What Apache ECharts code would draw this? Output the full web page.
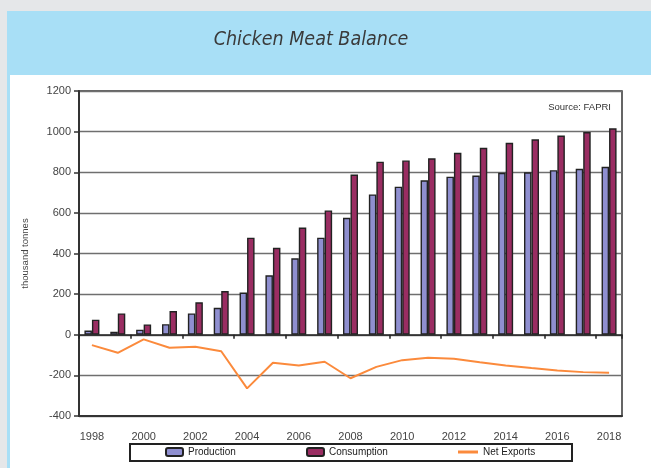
<!DOCTYPE html>
<html>
<head>
<meta charset="utf-8">
<script src="https://cdn.jsdelivr.net/npm/echarts@6/dist/echarts.min.js"></script>
<style>
  html, body { margin: 0; padding: 0; }
  body { width: 651px; height: 468px; background: #e5e7e9; position: relative; overflow: hidden; }
  #panel { position: absolute; left: 7px; top: 11px; right: 0; bottom: 0; background: #a8dff6; }
  #inner { position: absolute; left: 10px; top: 75px; right: 0; bottom: 0; background: #ffffff; }
  #chart { position: absolute; left: 0; top: 0; width: 651px; height: 468px; }
</style>
</head>
<body>
<div id="panel"></div>
<div id="inner"></div>
<div id="chart"></div>
<script>
const years = ['1998','1999','2000','2001','2002','2003','2004','2005','2006','2007','2008','2009','2010','2011','2012','2013','2014','2015','2016','2017','2018'];
const production = [21, 15, 25, 52, 105, 133, 208, 293, 376, 478, 576, 691, 729, 760, 778, 784, 797, 800, 810, 817, 827];
const consumption = [74, 105, 51, 117, 160, 215, 478, 428, 528, 612, 789, 852, 858, 869, 896, 920, 945, 962, 981, 998, 1016];
const netExports = [-51, -89, -23, -64, -59, -81, -264, -138, -151, -133, -214, -158, -125, -113, -118, -135, -151, -164, -176, -184, -187];
const yTicks = { min: -400, max: 1200, interval: 200 };

const chart = echarts.init(document.getElementById('chart'), null, { renderer: 'canvas' });
const textFont = 'Liberation Sans, Arial, sans-serif';
const legendText = { fontSize: 10, color: '#222', fontFamily: textFont };

chart.setOption({
  backgroundColor: 'transparent',
  animation: false,
  title: [{
    text: 'Chicken Meat Balance',
    left: 306, top: 25, textAlign: 'center',
    textStyle: { fontFamily: '"DejaVu Sans Condensed", "Open Sans", sans-serif', fontStyle: 'italic', fontWeight: 'normal', fontSize: 19.5, color: '#3a3a3a' }
  }, {
    text: 'Source: FAPRI',
    right: 35, top: 97,
    textStyle: { fontFamily: textFont, fontWeight: 'normal', fontSize: 9.5, color: '#333' }
  }],
  graphic: [{
    type: 'rect',
    shape: { x: 130, y: 444, width: 442, height: 17 },
    style: { fill: '#fff', stroke: '#222', lineWidth: 2 },
    z: -1
  }],
  legend: [{
    data: ['Production'], left: 163, top: 445, padding: 2,
    itemWidth: 17, itemHeight: 8, itemGap: 2, textStyle: legendText
  }, {
    data: ['Consumption'], left: 304, top: 445, padding: 2,
    itemWidth: 17, itemHeight: 8, itemGap: 2, textStyle: legendText
  }, {
    data: [{ name: 'Net Exports', icon: 'rect' }], left: 456, top: 445, padding: 2,
    itemWidth: 20, itemHeight: 3, itemGap: 2, textStyle: legendText
  }],
  grid: {
    left: 79, right: 29, top: 91, bottom: 52,
    show: true, borderColor: '#333', borderWidth: 1.5, backgroundColor: 'transparent'
  },
  xAxis: [{
    type: 'category', data: years, position: 'bottom',
    axisLine: { onZero: false, lineStyle: { color: '#333', width: 2 } },
    axisTick: { show: false },
    axisLabel: { interval: 1, fontSize: 11, color: '#444', fontFamily: textFont, margin: 15 },
    splitLine: { show: false }
  }, {
    type: 'category', data: years, position: 'bottom',
    axisLine: { onZero: true, lineStyle: { color: '#222', width: 1.5 } },
    axisTick: { show: true, inside: false, length: 4, lineStyle: { color: '#222', width: 1.5 } },
    axisLabel: { show: false },
    splitLine: { show: false }
  }],
  yAxis: {
    type: 'value', min: yTicks.min, max: yTicks.max, interval: yTicks.interval,
    name: 'thousand tonnes', nameLocation: 'middle', nameGap: 49, nameRotate: 90,
    nameTextStyle: { fontSize: 9.5, color: '#444', fontFamily: textFont },
    axisLine: { show: true, lineStyle: { color: '#333', width: 2 } },
    axisTick: { show: true, length: 5, lineStyle: { color: '#333', width: 1.5 } },
    axisLabel: { fontSize: 11, color: '#444', fontFamily: textFont, margin: 8, formatter: (v) => String(v) },
    splitLine: { show: true, lineStyle: { color: '#6f6f6f', width: 1.3 } }
  },
  series: [{
    name: 'Production', type: 'bar', data: production, xAxisIndex: 0,
    barWidth: 7.5, barGap: '0%',
    itemStyle: { color: '#8f8fd0', borderColor: '#222', borderWidth: 1.4 }
  }, {
    name: 'Consumption', type: 'bar', data: consumption, xAxisIndex: 0,
    barWidth: 7.5, barGap: '0%',
    itemStyle: { color: '#9a2d62', borderColor: '#222', borderWidth: 1.4 }
  }, {
    name: 'Net Exports', type: 'line', data: netExports, xAxisIndex: 0,
    symbol: 'none', smooth: false,
    lineStyle: { color: '#fb8a3c', width: 2 },
    itemStyle: { color: '#fb8a3c' },
    z: 3
  }]
});
</script>
</body>
</html>
